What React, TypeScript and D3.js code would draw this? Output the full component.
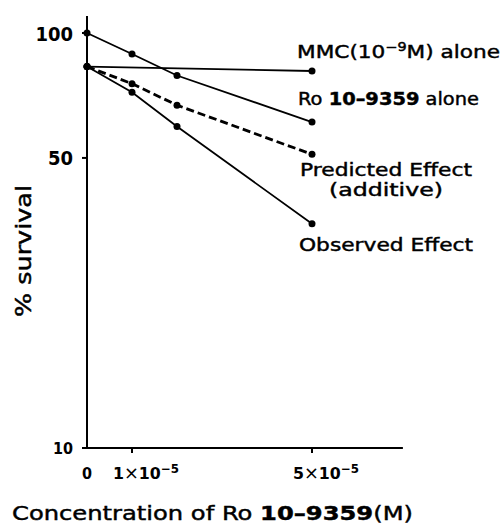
import React from "react";
import * as d3 from "d3";

const concentrations = [0, 1e-5, 2e-5, 5e-5];
const mmcConc = [0, 5e-5];
const mmcAlone = [83, 81];
const roAlone = [100, 89, 79, 61];
const predicted = [83, 75.5, 67, 51];
const observed = [83, 72, 59.5, 34.7];
const yTicks = [100, 50, 10];
const xTicks = [0, 1e-5, 5e-5];
const xTickLabels = ["0", "1", "5"];

const W = 504;
const H = 525;

export default function App() {
  const x = d3.scaleLinear().domain([0, 5e-5]).range([87, 312]);
  const y = d3.scaleLog().domain([10, 100]).range([448, 33]);
  const line = d3
    .line<[number, number]>()
    .x((d) => x(d[0]))
    .y((d) => y(d[1]));
  const pts = (xs: number[], ys: number[]) => xs.map((c, i) => [c, ys[i]] as [number, number]);
  const series = [
    { data: pts(mmcConc, mmcAlone), dash: undefined, w: 1.8 },
    { data: pts(concentrations, roAlone), dash: undefined, w: 1.8 },
    { data: pts(concentrations, predicted), dash: "8,4", w: 2.8 },
    { data: pts(concentrations, observed), dash: undefined, w: 1.8 },
  ];
  const font = "'DejaVu Sans', 'Noto Sans', sans-serif";
  const numFont = "'DejaVu Sans Condensed', 'Liberation Sans Narrow', 'DejaVu Sans', sans-serif";
  const heavy = { stroke: "#000", strokeWidth: 0.45 };
  const xEnd = x(7.02e-5);
  return (
    <svg
      width={W}
      height={H}
      style={{ position: "absolute", left: 0, top: 0, background: "#fff" }}
    >
      <rect width={W} height={H} fill="#fff" />
      {/* axes */}
      <line x1={x(0)} y1={16} x2={x(0)} y2={y(10)} stroke="#000" strokeWidth={2} />
      <line x1={x(0)} y1={y(10)} x2={xEnd} y2={y(10)} stroke="#000" strokeWidth={2} />
      {yTicks.map((t) => (
        <g key={"y" + t}>
          <line x1={x(0) - 5} x2={x(0)} y1={y(t)} y2={y(t)} stroke="#000" strokeWidth={2} />
          <text
            x={73}
            y={y(t) + (t === 10 ? 6 : 7.5)}
            textAnchor="end"
            fontFamily={numFont}
            fontWeight="bold"
            fontSize={t === 10 ? 16 : 20}
          >
            {t}
          </text>
        </g>
      ))}
      {xTicks.map((t, i) => (
        <g key={"x" + i}>
          {t > 0 && (
            <line x1={x(t)} x2={x(t)} y1={y(10)} y2={y(10) + 5} stroke="#000" strokeWidth={2} />
          )}
          <text
            x={t > 0 ? x(t) + 14 : x(t)}
            y={479}
            textAnchor="middle"
            fontFamily={numFont}
            fontWeight="bold"
            fontSize={16}
            textLength={t > 0 ? 66 : undefined}
            lengthAdjust="spacingAndGlyphs"
          >
            {xTickLabels[i]}
            {t > 0 && (
              <>
                <tspan fontWeight="normal" fontSize={18}>×</tspan>
                <tspan>10</tspan>
                <tspan dy={-6} fontSize={12}>
                  −5
                </tspan>
              </>
            )}
          </text>
        </g>
      ))}
      {/* series */}
      {series.map((s, i) => (
        <g key={"s" + i}>
          <path
            d={line(s.data) || ""}
            fill="none"
            stroke="#000"
            strokeWidth={s.w}
            strokeDasharray={s.dash}
          />
          {s.data.map((d, j) => (
            <circle key={j} cx={x(d[0])} cy={y(d[1])} r={3.5} fill="#000" />
          ))}
        </g>
      ))}
      {/* labels */}
      <text x={297} y={58} fontFamily={font} fontSize={18} textLength={203} lengthAdjust="spacingAndGlyphs" {...heavy}>
        MMC(10
        <tspan dy={-7} fontSize={12}>−9</tspan>
        <tspan dy={7}>M)  alone</tspan>
      </text>
      <text x={298} y={105} fontFamily={font} fontSize={18} textLength={181} lengthAdjust="spacingAndGlyphs" {...heavy}>
        Ro <tspan fontWeight="bold">10–9359</tspan>  alone
      </text>
      <text x={300} y={176} fontFamily={font} fontSize={18} textLength={172} lengthAdjust="spacingAndGlyphs" {...heavy}>
        Predicted  Effect
      </text>
      <text x={329} y={196} fontFamily={font} fontSize={18} textLength={114} lengthAdjust="spacingAndGlyphs" {...heavy}>
        (additive)
      </text>
      <text x={299} y={251} fontFamily={font} fontSize={18} textLength={174} lengthAdjust="spacingAndGlyphs" {...heavy}>
        Observed  Effect
      </text>
      <text
        transform="translate(31,251) rotate(-90)"
        textAnchor="middle"
        fontFamily={font}
        fontSize={21}
        textLength={132}
        lengthAdjust="spacingAndGlyphs"
        {...heavy}
      >
        % survival
      </text>
      <text x={12} y={520} fontFamily={font} fontSize={20} textLength={401} lengthAdjust="spacingAndGlyphs" {...heavy}>
        Concentration  of  Ro  <tspan fontWeight="bold">10–9359</tspan>(M)
      </text>
    </svg>
  );
}
